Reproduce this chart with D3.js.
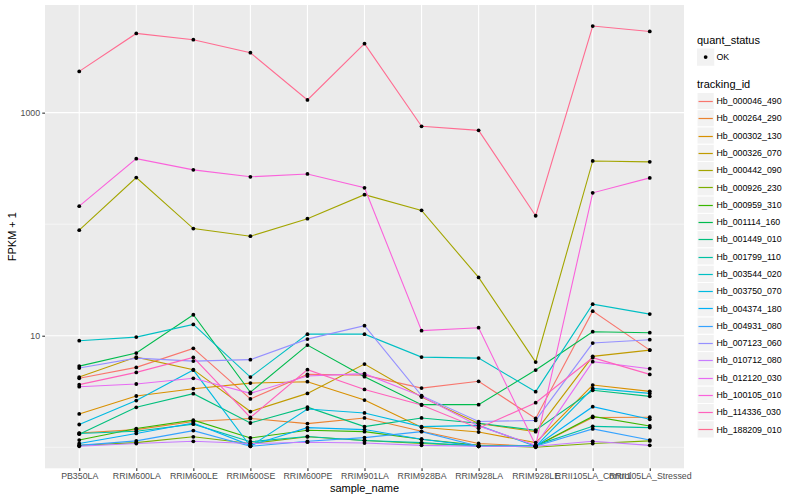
<!doctype html>
<html>
<head>
<meta charset="utf-8" />
<title>FPKM</title>
<script src="https://cdn.jsdelivr.net/npm/d3@7"></script>
<style>
  body { margin: 0; background: #fff; }
  text { font-family: "Liberation Sans", Arial, sans-serif; }
</style>
</head>
<body>
<svg id="chart" width="800" height="500"></svg>
<script>
// samples on the x axis
var samples = ["PB350LA", "RRIM600LA", "RRIM600LE", "RRIM600SE", "RRIM600PE", "RRIM901LA",
               "RRIM928BA", "RRIM928LA", "RRIM928LE", "RRII105LA_Control", "RRII105LA_Stressed"];

// FPKM per tracking id, one value per sample
var hb_000046_490 = [3.15, 4.2, 6.7, 1.71, 3.5, 3.43, 2.39, 2.9, 0.81, 15.6, 6.43];
var hb_000264_290 = [0.34, 0.44, 0.7, 0.81, 0.63, 0.83, 0.39, 0.08, 0.02, 0.85, 0.86];
var hb_000302_130 = [0.99, 1.88, 2.35, 2.76, 2.87, 1.65, 0.51, 0.37, 0.1, 2.61, 2.17];
var hb_000326_070 = [3.26, 5.43, 3.96, 1.09, 2.04, 4.57, 1.82, 0.63, 0.38, 5.53, 6.43];
var hb_000442_090 = [87.3, 261, 90.4, 77, 111, 183, 132, 32.3, 4.8, 368, 361];
var hb_000926_230 = [0.04, 0.1, 0.24, 0.08, 0.24, 0.15, 0.08, 0.04, 0, 0.08, 0.14];
var hb_000959_310 = [0.16, 0.47, 0.75, 0.21, 0.42, 0.38, 0.18, 0.04, 0.02, 0.89, 0.55];
var hb_001114_160 = [4.34, 5.99, 14.42, 2.11, 7.24, 3.29, 1.41, 1.41, 3.92, 9.86, 9.64];
var hb_001449_010 = [0.31, 1.28, 2.02, 0.65, 1.29, 0.53, 0.83, 0.64, 0.42, 2.24, 1.86];
var hb_001799_110 = [0.33, 0.39, 0.61, 0.12, 0.25, 0.15, 0.1, 0.02, 0.04, 0.54, 0.5];
var hb_003544_020 = [8.02, 8.72, 11.63, 3.26, 9.33, 9.33, 5.43, 5.3, 2.15, 18.19, 14.62];
var hb_003750_070 = [0.6, 1.62, 3.92, 0.02, 1.2, 1.03, 0.53, 0.57, 0.02, 2.37, 2.04];
var hb_004374_180 = [0.08, 0.33, 0.65, 0.04, 0.5, 0.44, 0.18, 0.02, 0.02, 1.31, 0.78];
var hb_004931_080 = [0.04, 0.14, 0.41, 0.02, 0.13, 0.22, 0.38, 0.02, 0.02, 0.46, 0.16];
var hb_007123_060 = [4.13, 5.3, 4.92, 5.1, 8.32, 11.29, 1.9, 0.7, 0.74, 7.59, 8.21];
var hb_010712_080 = [0.02, 0.08, 0.13, 0.08, 0.11, 0.09, 0.04, 0.02, 0.02, 0.13, 0.04];
var hb_012120_030 = [2.49, 2.69, 3.15, 2.04, 3.35, 3.57, 1.86, 0.55, 0.04, 4.85, 4.06];
var hb_100105_010 = [144, 386, 306, 265, 281, 211, 10.1, 10.8, 0.04, 190, 259];
var hb_114336_030 = [2.64, 3.69, 5.39, 0.85, 3.96, 2.3, 1.39, 0.48, 1.51, 5.35, 3.5];
var hb_188209_010 = [2343, 5131, 4506, 3446, 1299, 4149, 753, 693, 118, 5975, 5347];

var trackingIds = ["Hb_000046_490", "Hb_000264_290", "Hb_000302_130", "Hb_000326_070", "Hb_000442_090",
                   "Hb_000926_230", "Hb_000959_310", "Hb_001114_160", "Hb_001449_010", "Hb_001799_110",
                   "Hb_003544_020", "Hb_003750_070", "Hb_004374_180", "Hb_004931_080", "Hb_007123_060",
                   "Hb_010712_080", "Hb_012120_030", "Hb_100105_010", "Hb_114336_030", "Hb_188209_010"];
var seriesValues = [hb_000046_490, hb_000264_290, hb_000302_130, hb_000326_070, hb_000442_090,
                    hb_000926_230, hb_000959_310, hb_001114_160, hb_001449_010, hb_001799_110,
                    hb_003544_020, hb_003750_070, hb_004374_180, hb_004931_080, hb_007123_060,
                    hb_010712_080, hb_012120_030, hb_100105_010, hb_114336_030, hb_188209_010];

// ggplot hue palette for 20 levels
var palette = ["#F8766D", "#EA8331", "#D89000", "#C09B00", "#A3A500", "#7CAE00", "#39B600", "#00BB4E",
               "#00BF7D", "#00C1A3", "#00BFC4", "#00BAE0", "#00B0F6", "#35A2FF", "#9590FF", "#C77CFF",
               "#E76BF3", "#FA62DB", "#FF62BC", "#FF6C91"];

var yTicks = [10, 1000];
var yMinor = [1, 100];

var series = trackingIds.map(function(id, i) {
    return { id: id, values: seriesValues[i].map(function(v, j) { return { sample: samples[j], y: v + 1 }; }) };
});

var svg = d3.select("#chart");
var pL = 45, pT = 5, pR = 684, pB = 468.3;

var x = d3.scalePoint().domain(samples).range([pL, pR]).padding(0.6);

var all = [];
series.forEach(function(s) { s.values.forEach(function(d) { all.push(Math.log10(d.y)); }); });
var lo = d3.min(all), hi = d3.max(all), pad = (hi - lo) * 0.05;
var y = d3.scaleLog().domain([Math.pow(10, lo - pad), Math.pow(10, hi + pad)]).range([pB, pT]);

// panel
svg.append("rect").attr("x", pL).attr("y", pT)
   .attr("width", pR - pL).attr("height", pB - pT).attr("fill", "#EBEBEB");

var grid = svg.append("g");
grid.selectAll("line.minor").data(yMinor).enter().append("line")
    .attr("x1", pL).attr("x2", pR)
    .attr("y1", d => y(d)).attr("y2", d => y(d))
    .attr("stroke", "#fff").attr("stroke-width", 0.55);
grid.selectAll("line.majy").data(yTicks).enter().append("line")
    .attr("x1", pL).attr("x2", pR)
    .attr("y1", d => y(d)).attr("y2", d => y(d))
    .attr("stroke", "#fff").attr("stroke-width", 1.1);
grid.selectAll("line.majx").data(samples).enter().append("line")
    .attr("x1", d => x(d)).attr("x2", d => x(d))
    .attr("y1", pT).attr("y2", pB)
    .attr("stroke", "#fff").attr("stroke-width", 1.1);

// lines
var line = d3.line().x(d => x(d.sample)).y(d => y(d.y));
svg.append("g").selectAll("path").data(series).enter().append("path")
   .attr("d", d => line(d.values))
   .attr("fill", "none")
   .attr("stroke", (d, i) => palette[i])
   .attr("stroke-width", 1.1);

// points
var pts = [];
series.forEach(function(s) { s.values.forEach(function(d) { pts.push(d); }); });
svg.append("g").selectAll("circle").data(pts).enter().append("circle")
   .attr("cx", d => x(d.sample)).attr("cy", d => y(d.y))
   .attr("r", 1.9).attr("fill", "#000");

// axes
var xAxis = svg.append("g").attr("transform", "translate(0," + pB + ")")
   .call(d3.axisBottom(x).tickSize(2.74).tickPadding(2.2));
var yAxis = svg.append("g").attr("transform", "translate(" + pL + ",0)")
   .call(d3.axisLeft(y).tickValues(yTicks).tickFormat(d3.format("d")).tickSize(2.74).tickPadding(2.2));
[xAxis, yAxis].forEach(function(a) {
    a.select(".domain").remove();
    a.selectAll(".tick line").attr("stroke", "#333333").attr("stroke-width", 1.1);
    a.selectAll(".tick text").attr("fill", "#4D4D4D").style("font-size", "8.8px")
     .style("font-family", "'Liberation Sans', Arial, sans-serif");
});

svg.append("text").attr("x", (pL + pR) / 2).attr("y", 492)
   .attr("text-anchor", "middle").style("font-size", "11px").text("sample_name");
svg.append("text").attr("transform", "translate(16," + ((pT + pB) / 2) + ") rotate(-90)")
   .attr("text-anchor", "middle").style("font-size", "11px").text("FPKM + 1");

// legends
var lg = svg.append("g").attr("transform", "translate(697,0)");
lg.append("text").attr("x", 0).attr("y", 44).style("font-size", "11px").text("quant_status");
lg.append("rect").attr("x", 0).attr("y", 48.5).attr("width", 17.28).attr("height", 17.28)
  .attr("fill", "#F2F2F2");
lg.append("circle").attr("cx", 8.64).attr("cy", 57.1).attr("r", 1.9).attr("fill", "#000");
lg.append("text").attr("x", 19.5).attr("y", 60.2).style("font-size", "8.8px").text("OK");

lg.append("text").attr("x", 0).attr("y", 88).style("font-size", "11px").text("tracking_id");
var keys = lg.selectAll("g.key").data(trackingIds).enter().append("g")
  .attr("transform", (d, i) => "translate(0," + (92.4 + i * 17.28) + ")");
keys.append("rect").attr("width", 17.28).attr("height", 17.28)
  .attr("fill", "#F2F2F2").attr("stroke", "#fff").attr("stroke-width", 1);
keys.append("line").attr("x1", 1.5).attr("x2", 15.8)
  .attr("y1", (d, i) => Math.round(92.4 + i * 17.28 + 8.64) + 0.5 - (92.4 + i * 17.28))
  .attr("y2", (d, i) => Math.round(92.4 + i * 17.28 + 8.64) + 0.5 - (92.4 + i * 17.28))
  .attr("stroke", (d, i) => palette[i]).attr("stroke-width", 1.2);
keys.append("text").attr("x", 19.5).attr("y", 11.8).style("font-size", "8.8px").text(d => d);
</script>
</body>
</html>
